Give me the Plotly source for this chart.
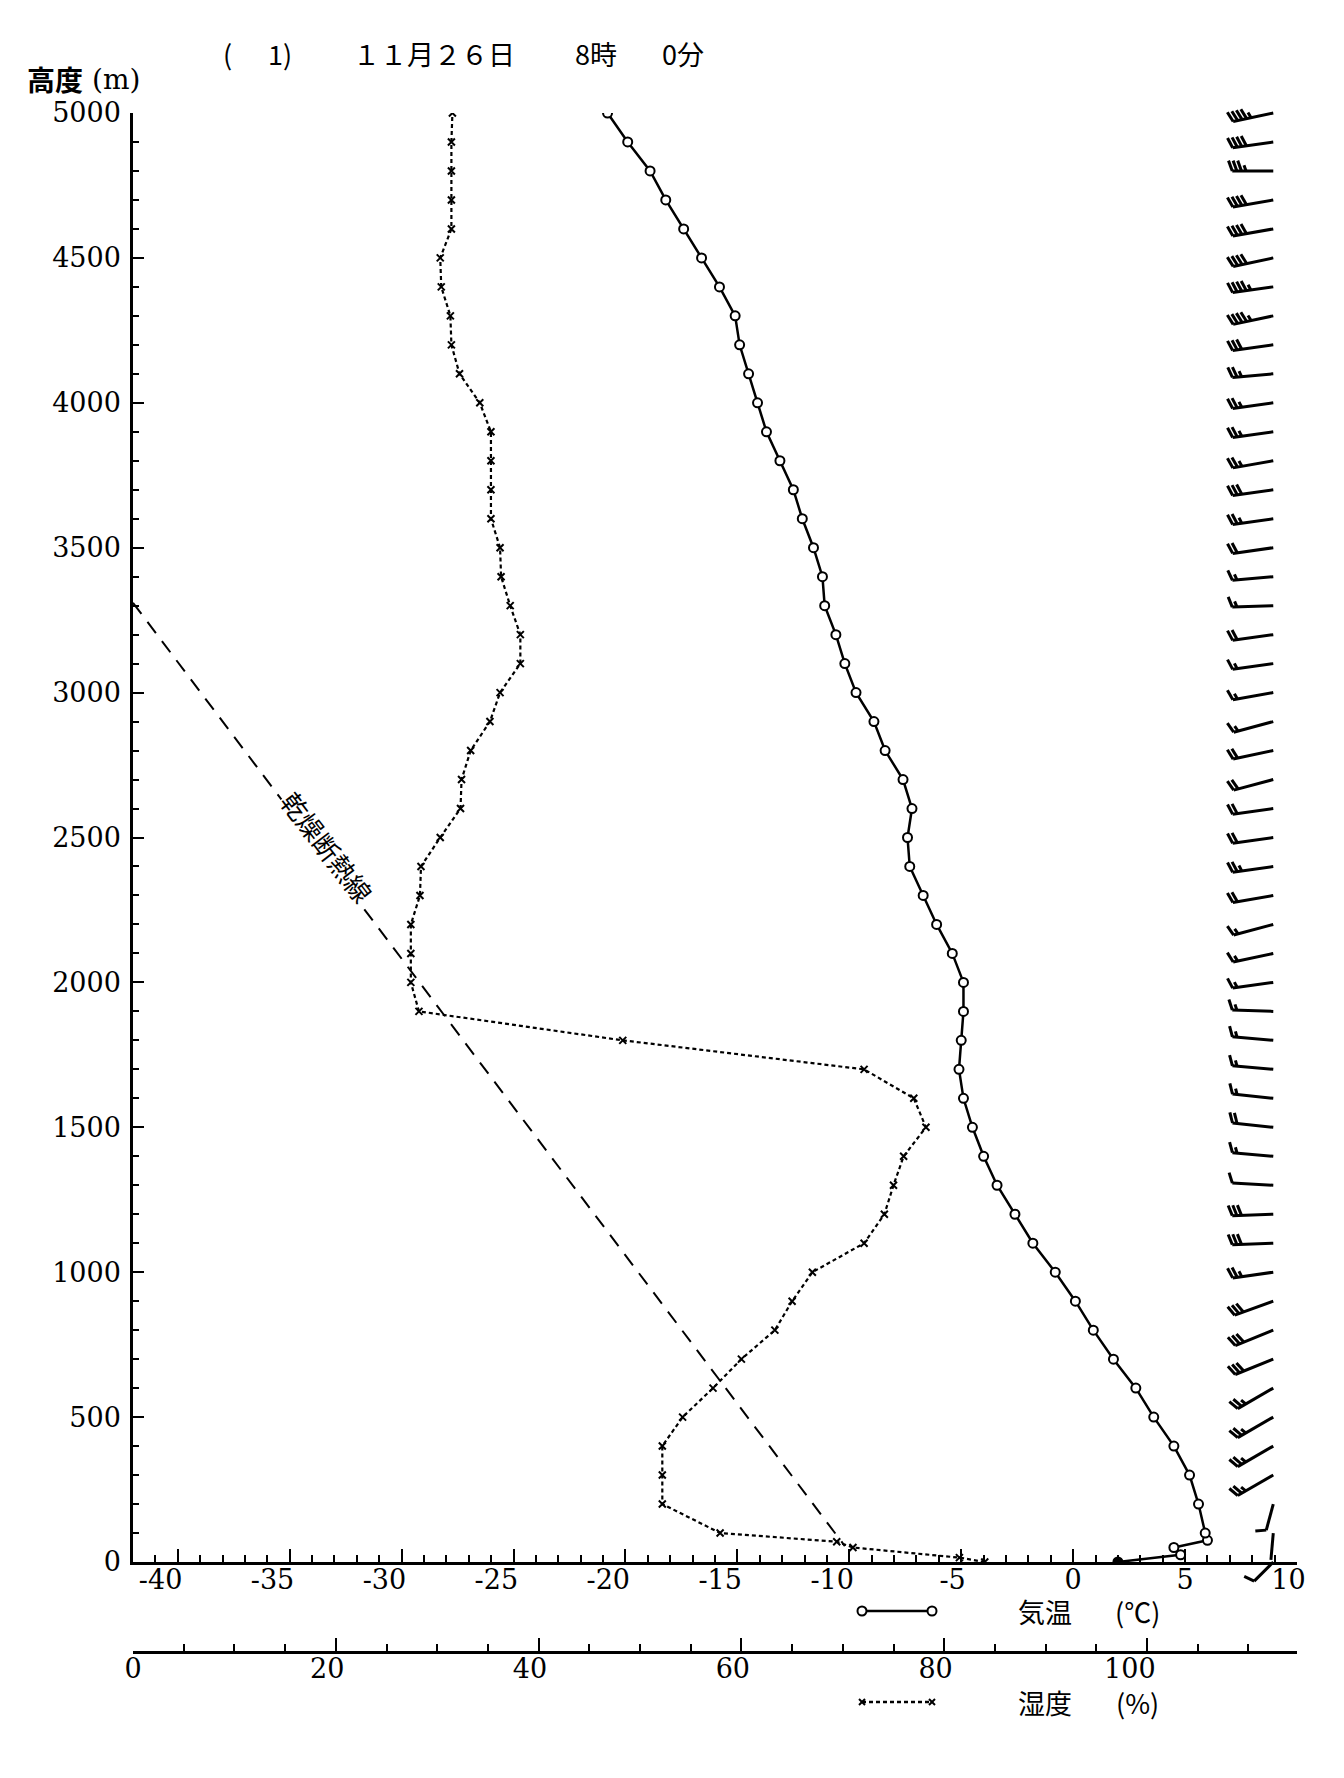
import math
import plotly.graph_objects as go

# ---------------- data ----------------
TEMP_HEIGHT_M = [0, 25, 50, 75, 100, 200, 300, 400, 500, 600, 700, 800, 900, 1000,
                 1100, 1200, 1300, 1400, 1500, 1600, 1700, 1800, 1900, 2000,
                 2100, 2200, 2300, 2400, 2500, 2600, 2700, 2800, 2900, 3000,
                 3100, 3200, 3300, 3400, 3500, 3600, 3700, 3800, 3900, 4000,
                 4100, 4200, 4300, 4400, 4500, 4600, 4700, 4800, 4900, 5000]
TEMP_C = [2.0, 4.8, 4.5, 6.0, 5.9, 5.6, 5.2, 4.5, 3.6, 2.8, 1.8, 0.9, 0.1, -0.8,
          -1.8, -2.6, -3.4, -4.0, -4.5, -4.9, -5.1, -5.0, -4.9, -4.9,
          -5.4, -6.1, -6.7, -7.3, -7.4, -7.2, -7.6, -8.4, -8.9, -9.7,
          -10.2, -10.6, -11.1, -11.2, -11.6, -12.1, -12.5, -13.1, -13.7, -14.1,
          -14.5, -14.9, -15.1, -15.8, -16.6, -17.4, -18.2, -18.9, -19.9, -20.8]

HUM_HEIGHT_M = [0, 15, 50, 70, 100, 200, 300, 400, 500, 600, 700, 800, 900, 1000,
                1100, 1200, 1300, 1400, 1500, 1600, 1700, 1800, 1900, 2000,
                2100, 2200, 2300, 2400, 2500, 2600, 2700, 2800, 2900, 3000,
                3100, 3200, 3300, 3400, 3500, 3600, 3700, 3800, 3900, 4000,
                4100, 4200, 4300, 4400, 4500, 4600, 4700, 4800, 4900, 5000]
HUM_PCT = [84.0, 81.5, 71.0, 69.4, 57.9, 52.2, 52.2, 52.2, 54.2, 57.2, 60.0, 63.3, 65.0, 67.0,
           72.1, 74.1, 75.0, 76.0, 78.2, 77.0, 72.1, 48.3, 28.2, 27.4,
           27.4, 27.4, 28.3, 28.4, 30.3, 32.3, 32.4, 33.3, 35.2, 36.2,
           38.2, 38.2, 37.2, 36.3, 36.2, 35.3, 35.3, 35.3, 35.3, 34.2,
           32.2, 31.4, 31.3, 30.4, 30.3, 31.4, 31.4, 31.4, 31.4, 31.5]

ADIABAT_T = [-42.0, -10.2]
ADIABAT_H = [3310, 55]

WIND_HEIGHT_M = [0, 100, 200, 300, 400, 500, 600, 700, 800, 900, 1000,
                 1100, 1200, 1300, 1400, 1500, 1600, 1700, 1800, 1900, 2000,
                 2100, 2200, 2300, 2400, 2500, 2600, 2700, 2800, 2900, 3000,
                 3100, 3200, 3300, 3400, 3500, 3600, 3700, 3800, 3900, 4000,
                 4100, 4200, 4300, 4400, 4500, 4600, 4700, 4800, 4900, 5000]
WIND_DIR_DEG = [225, 185, 195, 240, 240, 240, 240, 248, 248, 250, 262,
                268, 268, 273, 275, 276, 276, 275, 275, 272, 262,
                258, 255, 260, 262, 262, 262, 255, 258, 255, 260,
                262, 262, 268, 265, 262, 262, 262, 260, 262, 262,
                265, 262, 258, 262, 258, 260, 260, 270, 262, 258]
# barb units: 10 = full feather, 5 = half feather
WIND_SPEED = [10, 0, 10, 25, 25, 25, 25, 30, 30, 30, 25,
              30, 30, 10, 15, 20, 15, 15, 15, 15, 15,
              15, 15, 20, 25, 20, 20, 20, 20, 15, 15,
              15, 20, 15, 15, 20, 25, 30, 25, 25, 25,
              25, 30, 45, 45, 40, 40, 40, 35, 40, 45]

TEMP_TICKS = [-40, -35, -30, -25, -20, -15, -10, -5, 0, 5, 10]
HUM_TICKS = [0, 20, 40, 60, 80, 100]
HEIGHT_TICKS = [0, 500, 1000, 1500, 2000, 2500, 3000, 3500, 4000, 4500, 5000]

# ---------------- geometry / style ----------------
PAGE_OFF = 8                      # default page margin of the html body
W, H = 1344 - PAGE_OFF, 1778 - PAGE_OFF
L_PX, R_PX = 133 - PAGE_OFF, 1297 - PAGE_OFF
TOP_PX, BOT_PX = 113 - PAGE_OFF, 1562 - PAGE_OFF
HUM_AXIS_PX = 1652 - PAGE_OFF
MARGIN_T = 80
RH = HUM_AXIS_PX - MARGIN_T
T_RANGE = [-42, 10]
H_RANGE = [0, 5000]
HUM_PX_PER_PCT = 10.14
PX_PER_DEG = (R_PX - L_PX) / (T_RANGE[1] - T_RANGE[0])
M_PER_PX = (H_RANGE[1] - H_RANGE[0]) / (BOT_PX - TOP_PX)


def py2paper(py_page):
    return (HUM_AXIS_PX - (py_page - PAGE_OFF)) / RH


def px2paper(px_page):
    return ((px_page - PAGE_OFF) - L_PX) / (R_PX - L_PX)


SERIF = "DejaVu Serif"
CJK = "Noto Sans CJK JP"
FS = "\u2007"


def pad(v):
    s = str(v)
    return s + FS * (len(s) - 1)


# ---------------- wind barbs (computed from wind data) ----------------
BARB_STATION_T = 8.94
SHAFT_PX, SPACING_PX, FEATHER_PX, FEATHER_TILT = 41, 4.6, 11, 20


def barb_lines():
    xs, ys = [], []

    def add(p0, p1, h0):
        xs.extend([BARB_STATION_T + p0[0] / PX_PER_DEG, BARB_STATION_T + p1[0] / PX_PER_DEG, None])
        ys.extend([h0 + p0[1] * M_PER_PX, h0 + p1[1] * M_PER_PX, None])

    for h0, d, spd in zip(WIND_HEIGHT_M, WIND_DIR_DEG, WIND_SPEED):
        ux, uy = math.sin(math.radians(d)), math.cos(math.radians(d))
        qx, qy = uy, -ux
        shaft = SHAFT_PX if h0 > 250 else 27
        end = (shaft * ux, shaft * uy)
        add((0, 0), end, h0)
        full, half = spd // 10, (spd % 10) // 5
        ca, sa = math.cos(math.radians(FEATHER_TILT)), math.sin(math.radians(FEATHER_TILT))
        pos = 0
        for _ in range(full):
            b = (end[0] - pos * SPACING_PX * ux, end[1] - pos * SPACING_PX * uy)
            t = (b[0] + FEATHER_PX * (qx * ca + ux * sa), b[1] + FEATHER_PX * (qy * ca + uy * sa))
            add(b, t, h0)
            pos += 1
        if half:
            if full == 0:
                pos = 1
            b = (end[0] - pos * SPACING_PX * ux, end[1] - pos * SPACING_PX * uy)
            f = FEATHER_PX * 0.55
            t = (b[0] + f * (qx * ca + ux * sa), b[1] + f * (qy * ca + uy * sa))
            add(b, t, h0)
    return xs, ys


fig = go.Figure()

# dry adiabat
fig.add_trace(go.Scatter(x=ADIABAT_T, y=ADIABAT_H, mode="lines",
                         line=dict(color="black", width=2, dash="14px,10px"),
                         xaxis="x", yaxis="y", hoverinfo="skip"))

# humidity
fig.add_trace(go.Scatter(x=HUM_PCT, y=HUM_HEIGHT_M, mode="lines+markers",
                         line=dict(color="black", width=2.2, dash="4px,3px"),
                         marker=dict(symbol="x-thin", size=7, line=dict(color="black", width=2)),
                         xaxis="x2", yaxis="y", name="湿度 (%)"))

# temperature
t_fill = ["black"] + ["white"] * (len(TEMP_C) - 1)
fig.add_trace(go.Scatter(x=TEMP_C, y=TEMP_HEIGHT_M, mode="lines+markers",
                         line=dict(color="black", width=2.5),
                         marker=dict(symbol="circle", size=9, color=t_fill,
                                     line=dict(color="black", width=2)),
                         xaxis="x", yaxis="y", name="気温 (℃)"))

bx, by = barb_lines()
fig.add_trace(go.Scatter(x=bx, y=by, mode="lines", line=dict(color="black", width=3),
                         xaxis="x3", yaxis="y3", hoverinfo="skip"))

BARB_PAD_BOT, BARB_PAD_TOP = 28, 18

axis_common = dict(showgrid=False, zeroline=False, showline=True, linecolor="black",
                   ticks="inside", tickcolor="black", tickfont=dict(family=SERIF, size=27, color="black"))

fig.update_layout(
    width=W, height=H,
    margin=dict(l=L_PX, r=W - R_PX, t=MARGIN_T, b=H - HUM_AXIS_PX, pad=0),
    paper_bgcolor="white", plot_bgcolor="rgba(0,0,0,0)",
    showlegend=False,
    xaxis=dict(range=T_RANGE, domain=[0, 1], anchor="y", linewidth=2.5,
               tickmode="array", tickvals=TEMP_TICKS, ticktext=[pad(v) for v in TEMP_TICKS],
               ticklen=13, tickwidth=2, ticklabelstandoff=-8,
               minor=dict(dtick=1, tick0=0, ticks="inside", ticklen=7, tickwidth=1.5, tickcolor="black"),
               **axis_common),
    xaxis2=dict(range=[0, (R_PX - L_PX) / HUM_PX_PER_PCT], overlaying="x", anchor="free", position=0,
                side="bottom", linewidth=3,
                tickmode="array", tickvals=HUM_TICKS, ticktext=[pad(v) for v in HUM_TICKS],
                ticklen=13, tickwidth=2, ticklabelstandoff=-8,
                minor=dict(dtick=5, tick0=0, ticks="inside", ticklen=7, tickwidth=1.5, tickcolor="black"),
                **axis_common),
    yaxis=dict(range=H_RANGE, domain=[(HUM_AXIS_PX - BOT_PX) / RH, (HUM_AXIS_PX - TOP_PX) / RH], anchor="x",
               linewidth=2.5, tickmode="array", tickvals=HEIGHT_TICKS, ticklen=11, tickwidth=2,
               ticklabelstandoff=4,
               minor=dict(dtick=100, tick0=0, ticks="inside", ticklen=6, tickwidth=1.5, tickcolor="black"),
               **axis_common),
    xaxis3=dict(range=T_RANGE, domain=[0, 1], anchor="y3", visible=False),
    yaxis3=dict(range=[H_RANGE[0] - BARB_PAD_BOT * M_PER_PX, H_RANGE[1] + BARB_PAD_TOP * M_PER_PX],
                domain=[(HUM_AXIS_PX - BOT_PX - BARB_PAD_BOT) / RH, (HUM_AXIS_PX - TOP_PX + BARB_PAD_TOP) / RH],
                anchor="x3", visible=False),
)

ann = []


def label(text, px, py, size=26, family=CJK, xanchor="left", **kw):
    ann.append(dict(text=text, x=px2paper(px), y=py2paper(py), xref="paper", yref="paper",
                    xanchor=xanchor, yanchor="middle", showarrow=False,
                    font=dict(family=family, size=size, color="black"), **kw))


# title (positions are page pixels of the reference)
label("(", 221, 53, size=27)
label("1)", 266, 53, size=27)
label("１１月２６日", 351, 53, size=27)
label("8時", 573, 53, size=27)
label("0分", 660, 53, size=27)
# y axis title
label("<b>高度</b>", 25, 79, size=28)
label("(m)", 90, 79, size=28, family=SERIF)
# key texts
label("気温", 1045, 1611, xanchor="center", size=27)
label("(℃)", 1137, 1611, xanchor="center", size=27)
label("湿度", 1045, 1702, xanchor="center", size=27)
label("(%)", 1137, 1702, xanchor="center", size=27)

# dry adiabat label
ann.append(dict(text="乾燥断熱線", x=-33.3, y=2470, xref="x", yref="y", showarrow=False,
                textangle=52.6, bgcolor="white", borderpad=0,
                font=dict(family=CJK, size=26, color="black")))
fig.update_layout(annotations=ann)

# key samples
shapes = []
KX0, KX1 = 862, 932
KY_T, KY_H = 1611, 1702
shapes.append(dict(type="line", xref="paper", yref="paper", x0=px2paper(KX0), x1=px2paper(KX1),
                   y0=py2paper(KY_T), y1=py2paper(KY_T), line=dict(color="black", width=2.5)))
for kx in (KX0, KX1):
    shapes.append(dict(type="circle", xref="paper", yref="paper", xsizemode="pixel", ysizemode="pixel",
                       xanchor=px2paper(kx), yanchor=py2paper(KY_T), x0=-4.5, x1=4.5, y0=-4.5, y1=4.5,
                       fillcolor="white", line=dict(color="black", width=2)))
shapes.append(dict(type="line", xref="paper", yref="paper", x0=px2paper(KX0), x1=px2paper(KX1),
                   y0=py2paper(KY_H), y1=py2paper(KY_H), line=dict(color="black", width=2.5, dash="4px,3px")))
for kx in (KX0, KX1):
    for s in (1, -1):
        shapes.append(dict(type="line", xref="paper", yref="paper", xsizemode="pixel", ysizemode="pixel",
                           xanchor=px2paper(kx), yanchor=py2paper(KY_H), x0=-3, x1=3, y0=-3 * s, y1=3 * s,
                           line=dict(color="black", width=2)))
fig.update_layout(shapes=shapes)

fig.write_html("out.html")
